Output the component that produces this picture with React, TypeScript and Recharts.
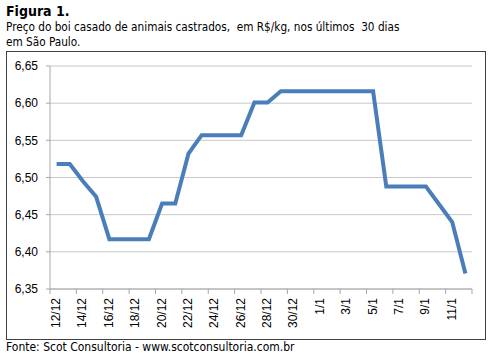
import { CartesianGrid, Line, LineChart, XAxis, YAxis } from 'recharts';

// dias (12/12 a 12/1) e preço do boi casado, R$/kg
const dates = [
  '12/12', '13/12', '14/12', '15/12', '16/12', '17/12', '18/12', '19/12',
  '20/12', '21/12', '22/12', '23/12', '24/12', '25/12', '26/12', '27/12',
  '28/12', '29/12', '30/12', '31/12', '1/1', '2/1', '3/1', '4/1',
  '5/1', '6/1', '7/1', '8/1', '9/1', '10/1', '11/1', '12/1',
];
const prices = [
  6.518, 6.518, 6.495, 6.474, 6.417, 6.417, 6.417, 6.417,
  6.465, 6.465, 6.532, 6.557, 6.557, 6.557, 6.557, 6.601,
  6.601, 6.616, 6.616, 6.616, 6.616, 6.616, 6.616, 6.616,
  6.616, 6.488, 6.488, 6.488, 6.488, 6.464, 6.440, 6.371,
];
const yTicks = [6.35, 6.4, 6.45, 6.5, 6.55, 6.6, 6.65];

const data = dates.map((d, i) => ({ date: d, price: prices[i] }));

const W = 491;
const H = 359;
const PLOT_LEFT = 50;
const PLOT_RIGHT = 472;
const STEP = (PLOT_RIGHT - PLOT_LEFT) / dates.length;
const AXIS_FONT = '"Liberation Sans", Arial, sans-serif';
const TEXT_FONT = '"DejaVu Sans Condensed", "DejaVu Sans", sans-serif';

function DateTick(props: any) {
  const { x, y, payload, index, visibleTicksCount } = props;
  const last = index === visibleTicksCount - 1;
  return (
    <g>
      <line x1={x - STEP / 2} x2={x - STEP / 2} y1={y} y2={y + 5} stroke="#a6a6a6" />
      {last && (
        <line
          x1={x + STEP * 1.5}
          x2={x + STEP * 1.5}
          y1={y}
          y2={y + 5}
          stroke="#a6a6a6"
        />
      )}
      <text
        transform={`translate(${x + 3.5},${y + 9}) rotate(-90)`}
        textAnchor="end"
        fontSize={12}
        fontFamily={AXIS_FONT}
        fill="#000"
      >
        {payload.value}
      </text>
    </g>
  );
}

export default function App() {
  return (
    <div
      style={{
        position: 'absolute',
        left: 0,
        top: 0,
        width: W,
        height: H,
        background: '#fff',
        fontFamily: TEXT_FONT,
        color: '#000',
      }}
    >
      <div style={{ position: 'absolute', left: 6, top: 3, fontSize: 14, fontWeight: 'bold' }}>
        Figura 1.
      </div>
      <div
        style={{
          position: 'absolute',
          left: 6,
          top: 20,
          fontSize: 11.7,
          lineHeight: '15px',
          whiteSpace: 'pre',
        }}
      >
        {'Preço do boi casado de animais castrados,  em R$/kg, nos últimos  30 dias\nem São Paulo.'}
      </div>
      <div
        style={{
          position: 'absolute',
          left: 6,
          top: 51,
          width: 478,
          height: 287,
          border: '1px solid #404040',
        }}
      />
      <div style={{ position: 'absolute', left: 0, top: 0 }}>
        <LineChart
          width={W}
          height={H}
          data={data}
          margin={{ top: 66, right: W - PLOT_RIGHT, bottom: 20, left: 6 }}
        >
          <CartesianGrid vertical={false} stroke="#c8c8c8" />
          <XAxis
            dataKey="date"
            interval={1}
            height={50}
            padding={{ left: STEP / 2, right: STEP / 2 }}
            tickLine={false}
            tickSize={0}
            tickMargin={0}
            axisLine={{ stroke: '#a6a6a6' }}
            tick={<DateTick />}
          />
          <YAxis
            width={44}
            domain={[6.35, 6.65]}
            ticks={yTicks}
            interval={0}
            tickSize={4}
            tickMargin={8}
            axisLine={{ stroke: '#a6a6a6' }}
            tickLine={{ stroke: '#a6a6a6' }}
            tick={{ fontSize: 12, fontFamily: AXIS_FONT, fill: '#000' }}
            tickFormatter={(v: number) => v.toFixed(2).replace('.', ',')}
          />
          <Line
            dataKey="price"
            type="linear"
            stroke="#4a7ebb"
            strokeWidth={4}
            dot={false}
            isAnimationActive={false}
          />
        </LineChart>
      </div>
      <div style={{ position: 'absolute', left: 6, top: 340, fontSize: 12 }}>
        Fonte: Scot Consultoria - www.scotconsultoria.com.br
      </div>
    </div>
  );
}
